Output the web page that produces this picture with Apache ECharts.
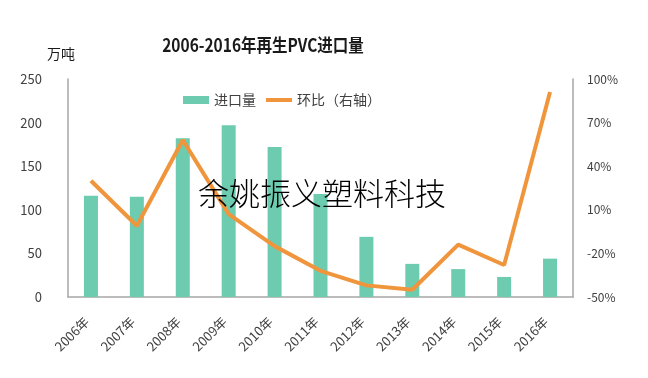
<!DOCTYPE html>
<html>
<head>
<meta charset="utf-8">
<script src="https://cdn.jsdelivr.net/npm/echarts@6/dist/echarts.min.js"></script>
<style>
  html, body { margin: 0; padding: 0; background: #fff; }
  #chart { width: 648px; height: 378px; }
</style>
</head>
<body>
<div id="chart"></div>
<script>
const years = ['2006年', '2007年', '2008年', '2009年', '2010年', '2011年', '2012年', '2013年', '2014年', '2015年', '2016年'];
// import volume, 10k tonnes
const importVolume = [116, 115, 182, 197, 172, 118, 69, 38, 32, 23, 44];
// year-on-year change, %
const yoyChange = [30, -1, 58, 7, -15, -32, -42, -45, -14, -28, 91];

const font = '"Noto Sans CJK SC", "Noto Sans", sans-serif';
const textColor = '#404040';
const axisColor = '#a6a6a6';
const barColor = '#6dcbb0';
const lineColor = '#f0953c';

const chart = echarts.init(document.getElementById('chart'));

chart.setOption({
  animation: false,
  backgroundColor: '#fff',
  legend: {
    left: 178,
    top: 88,
    itemGap: 10,
    itemWidth: 26,
    itemHeight: 8,
    textStyle: { fontFamily: font, fontSize: 14, color: textColor },
    data: [
      { name: '进口量', icon: 'rect' },
      { name: '环比（右轴）', icon: 'path://M0,0h26v4h-26z', itemStyle: { color: lineColor } }
    ]
  },
  grid: { left: 68, right: 75, top: 79, bottom: 81 },
  xAxis: {
    type: 'category',
    data: years,
    axisLine: { lineStyle: { color: axisColor, width: 1.5 } },
    axisTick: { show: false },
    axisLabel: {
      interval: 0,
      rotate: 45,
      margin: 18,
      padding: [0, 6, 0, 0],
      fontFamily: font,
      fontSize: 13,
      color: textColor
    }
  },
  yAxis: [
    {
      type: 'value',
      name: '万吨',
      nameLocation: 'end',
      nameGap: 18,
      nameTextStyle: { fontFamily: font, fontSize: 14, color: '#1a1a1a', align: 'center', padding: [0, 14, 0, 0] },
      min: 0,
      max: 250,
      interval: 50,
      axisLine: { show: true, lineStyle: { color: axisColor, width: 1.5 } },
      axisTick: { show: false },
      splitLine: { show: false },
      axisLabel: { fontFamily: font, fontSize: 13, color: textColor, margin: 26 }
    },
    {
      type: 'value',
      min: -50,
      max: 100,
      interval: 30,
      axisLine: { show: true, lineStyle: { color: axisColor, width: 1.5 } },
      axisTick: { show: false },
      splitLine: { show: false },
      axisLabel: {
        fontFamily: font,
        fontSize: 12,
        color: textColor,
        margin: 14,
        formatter: '{value}%'
      }
    }
  ],
  series: [
    {
      name: '进口量',
      type: 'bar',
      data: importVolume,
      barWidth: 14,
      itemStyle: { color: barColor }
    },
    {
      name: '环比（右轴）',
      type: 'line',
      yAxisIndex: 1,
      data: yoyChange,
      symbol: 'none',
      lineStyle: { color: lineColor, width: 4 },
      itemStyle: { color: lineColor }
    }
  ],
  graphic: [
    {
      // title, drawn narrower like the condensed bold face of the original
      type: 'text',
      x: 263,
      y: 45,
      scaleX: 0.86,
      style: {
        text: '2006-2016年再生PVC进口量',
        fontFamily: font,
        fontSize: 18,
        fontWeight: 'bold',
        fill: '#1a1a1a',
        align: 'center',
        verticalAlign: 'middle'
      }
    },
    {
      type: 'text',
      left: 198,
      top: 178,
      z: 100,
      style: {
        text: '余姚振义塑料科技',
        fontFamily: '"Noto Sans CJK SC", serif',
        fontSize: 31,
        fontWeight: 300,
        fill: '#000'
      }
    }
  ]
});
</script>
</body>
</html>
